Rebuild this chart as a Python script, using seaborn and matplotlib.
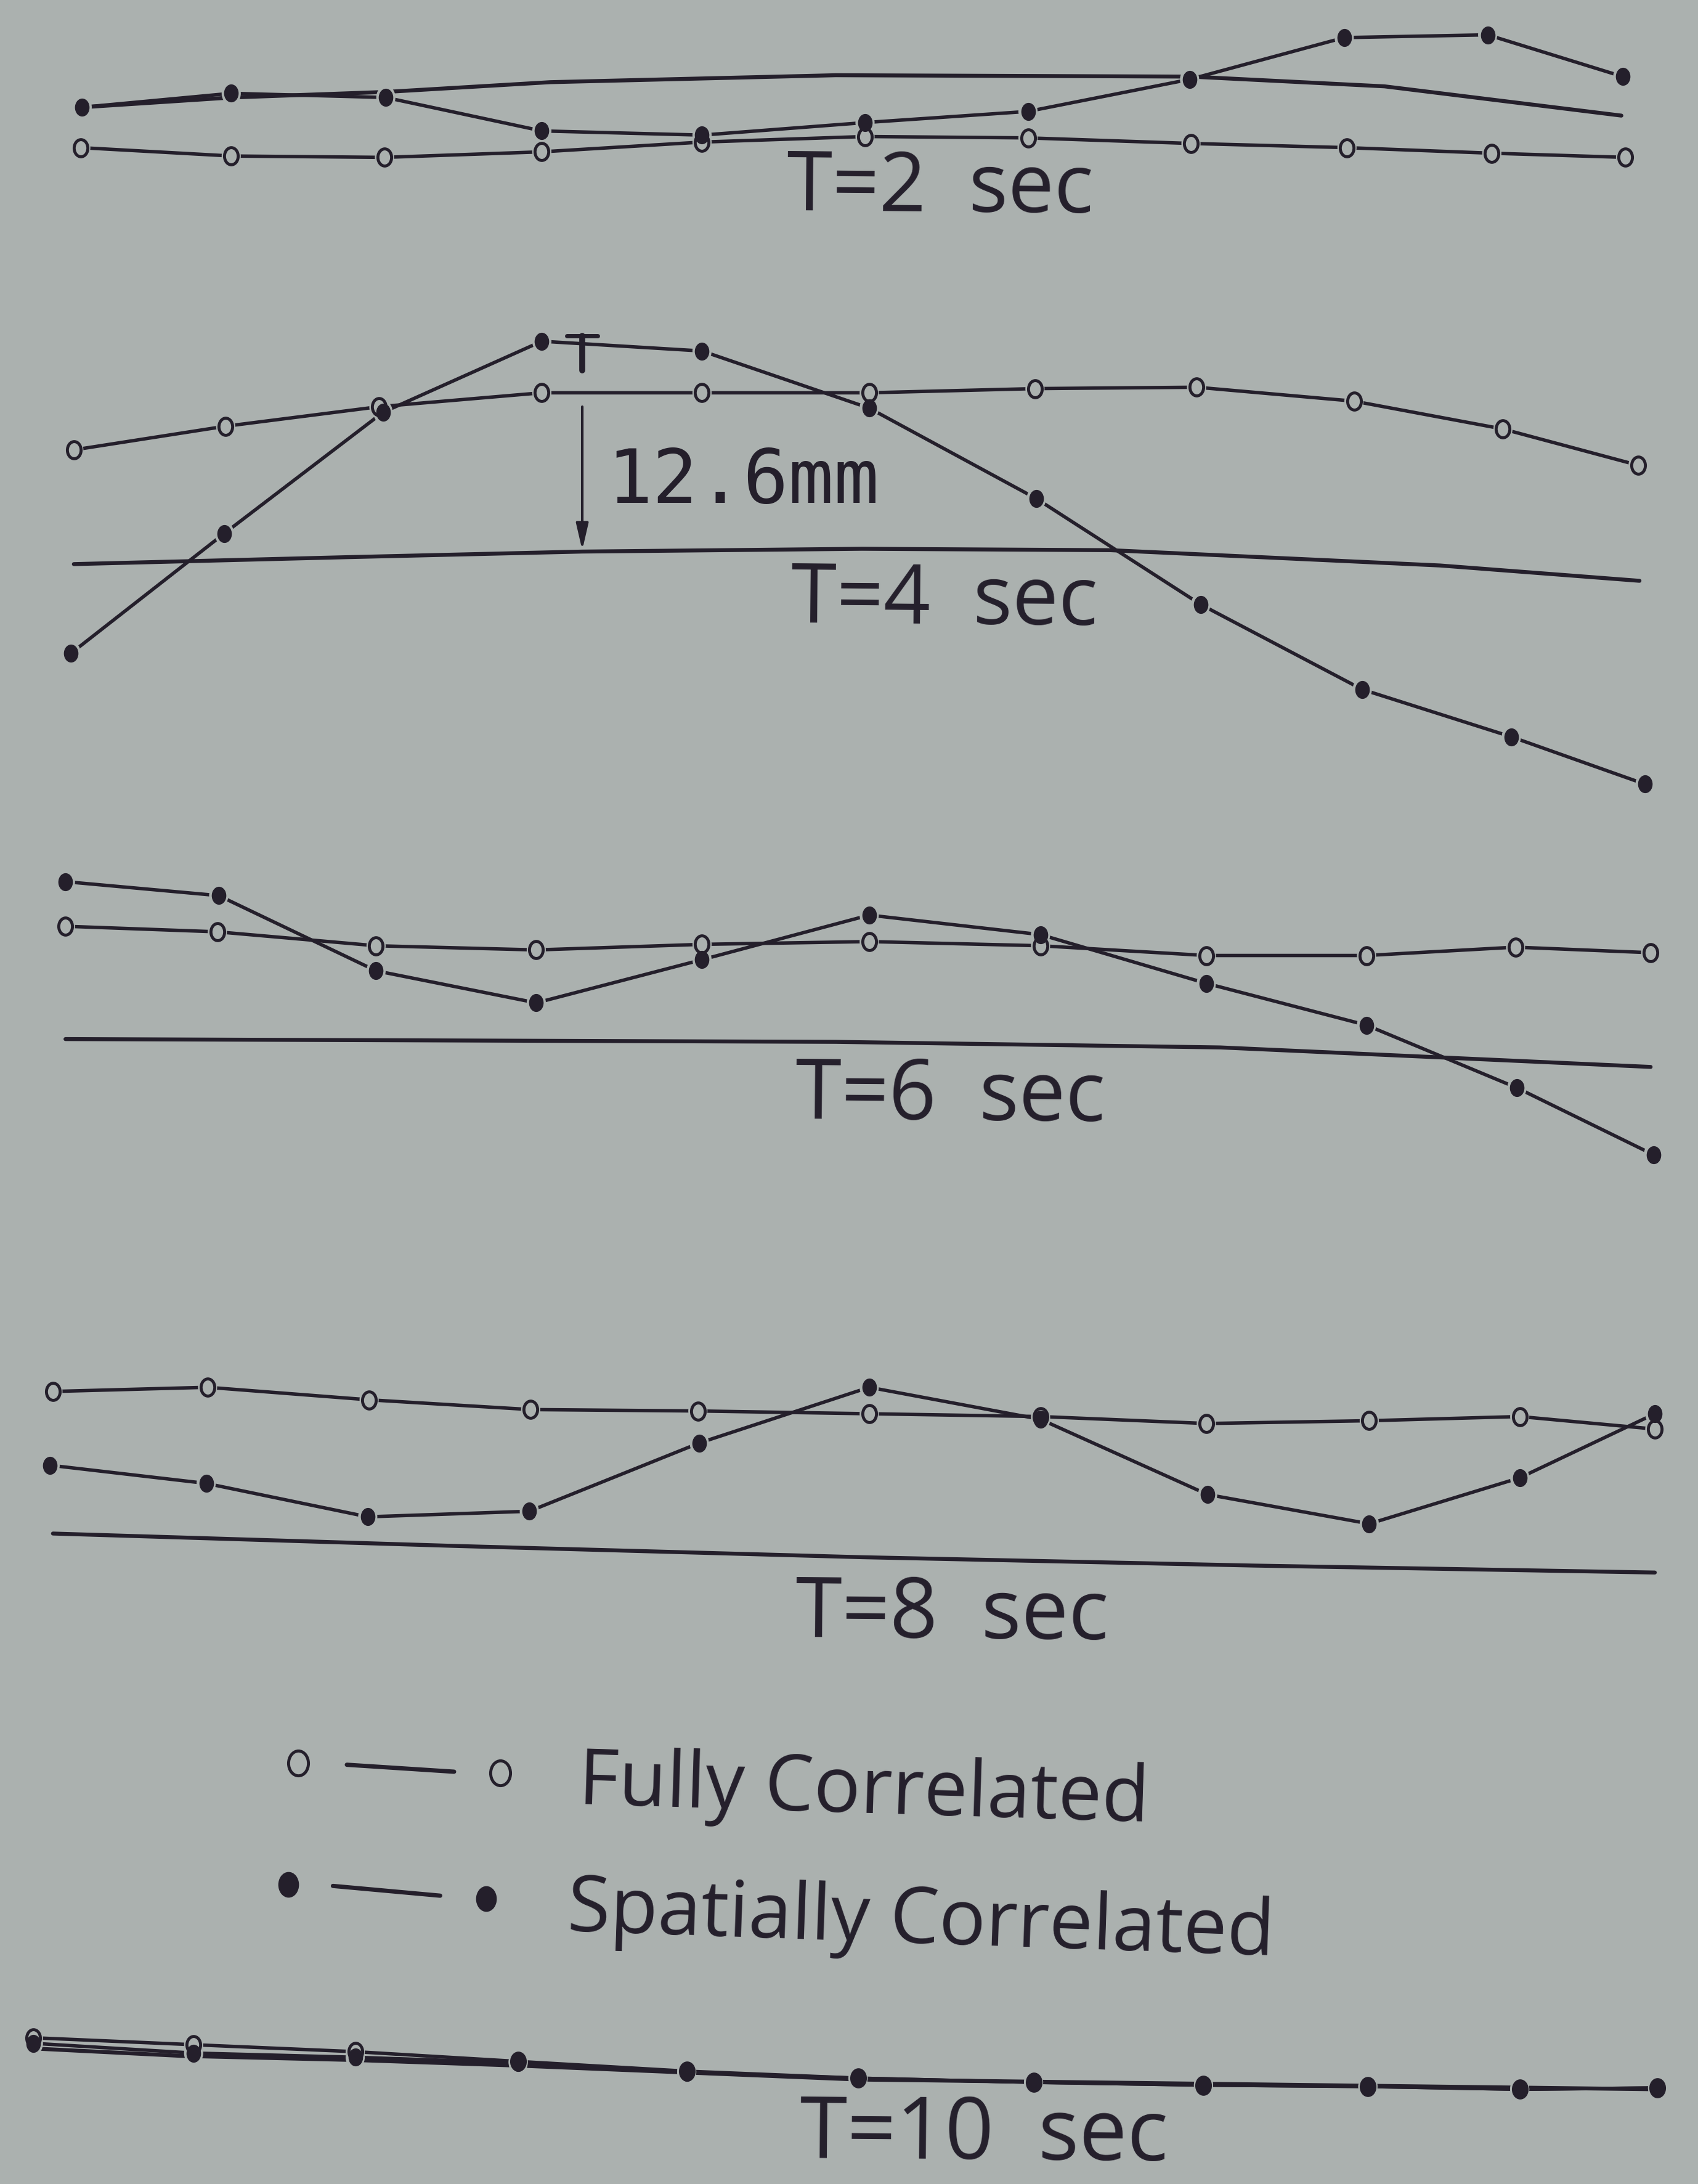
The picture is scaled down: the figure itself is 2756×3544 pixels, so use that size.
import matplotlib
matplotlib.use('Agg')
import matplotlib.pyplot as plt
import numpy as np
import seaborn as sns
from matplotlib.path import Path
from matplotlib.transforms import Affine2D

sns.set_style('white')
plt.rcParams['font.family'] = ['Open Sans', 'DejaVu Sans']

# deck shapes, in units of the 1219 x 1568 reference view
# T = 2 sec
t2_base_x = [59, 166, 277, 395, 600, 855, 994, 1164]
t2_base_y = [77, 70, 66, 59, 54, 55, 62, 83]
t2_full_x = [58, 166, 276, 389, 504, 621, 738, 855, 967, 1071, 1167]
t2_full_y = [106, 112, 113, 109, 102, 98, 99, 103, 106, 110, 113]
t2_spat_x = [59, 166, 277, 389, 504, 621, 738, 854, 965, 1068, 1165]
t2_spat_y = [77, 67, 70, 94, 97, 88, 80, 57, 27, 25, 55]

# T = 4 sec
t4_base_x = [53, 250, 418, 619, 797, 1034, 1177]
t4_base_y = [405, 400, 396, 394, 395, 406, 417]
t4_full_x = [53, 162, 272, 389, 504, 624, 743, 859, 972, 1079, 1176]
t4_full_y = [323, 306, 292, 282, 282, 282, 279, 278, 288, 308, 334]
t4_spat_x = [51, 161, 275, 389, 504, 624, 744, 862, 978, 1085, 1181]
t4_spat_y = [469, 383, 296, 245, 252, 293, 358, 434, 495, 529, 563]

# T = 6 sec
t6_base_x = [47, 600, 876, 1185]
t6_base_y = [746, 748, 752, 766]
t6_full_x = [47, 156, 270, 385, 504, 624, 747, 866, 981, 1088, 1185]
t6_full_y = [665, 669, 679, 682, 678, 676, 679, 686, 686, 680, 684]
t6_spat_x = [47, 157, 270, 385, 504, 624, 747, 866, 981, 1089, 1187]
t6_spat_y = [633, 643, 697, 720, 689, 657, 671, 706, 736, 781, 829]

# T = 8 sec
t8_base_x = [38, 330, 619, 900, 1188]
t8_base_y = [1101, 1110, 1118, 1124, 1129]
t8_full_x = [38, 149, 265, 381, 501, 624, 747, 866, 983, 1091, 1188]
t8_full_y = [999, 996, 1005, 1012, 1013, 1015, 1017, 1022, 1020, 1017, 1026]
t8_spat_x = [36, 148, 264, 380, 502, 624, 747, 867, 983, 1091, 1188]
t8_spat_y = [1052, 1065, 1089, 1085, 1036, 996, 1019, 1073, 1094, 1061, 1015]

# T = 10 sec
t10_base_x = [30, 130, 255, 372, 616, 1190]
t10_base_y = [1471, 1476, 1479, 1483, 1493, 1500]
t10_full_x = [24, 139, 255, 372, 493, 616, 742, 864, 982, 1091, 1190]
t10_full_y = [1463, 1468, 1473, 1480, 1487, 1492, 1495, 1497, 1498, 1500, 1499]
t10_spat_x = [24, 139, 255, 372, 493, 616, 742, 864, 982, 1091, 1190]
t10_spat_y = [1467, 1474, 1477, 1481, 1488, 1492, 1495, 1497, 1498, 1500, 1499]

titles = ['T=2  sec', 'T=4  sec', 'T=6  sec', 'T=8  sec', 'T=10  sec']
title_x = [565, 568, 571, 571, 574]
title_y = [151, 447, 803, 1175, 1549]
title_size = [96, 96, 97, 98, 100]

# legend sample (open / filled)
leg_full_x = [214, 359]
leg_full_y = [1266, 1273]
leg_full_line_x = [249, 326]
leg_full_line_y = [1267, 1272]
leg_spat_x = [207, 349]
leg_spat_y = [1353, 1363]
leg_spat_line_x = [239, 316]
leg_spat_line_y = [1354, 1361]
leg_labels = ['Fully Correlated', 'Spatially Correlated']

BG = '#abb1af'
INK = '#241f2b'
LW = 4.0
OVAL = Path.unit_circle().transformed(Affine2D().scale(0.8, 1.0))

fig = plt.figure(figsize=(27.56, 35.44), dpi=100)
fig.patch.set_facecolor(BG)
ax = fig.add_axes([0, 0, 1, 1])
ax.set_facecolor(BG)
ax.set_xlim(0, 1219)
ax.set_ylim(1568, 0)
ax.axis('off')

panels = [
    (t2_base_x, t2_base_y, t2_full_x, t2_full_y, t2_spat_x, t2_spat_y),
    (t4_base_x, t4_base_y, t4_full_x, t4_full_y, t4_spat_x, t4_spat_y),
    (t6_base_x, t6_base_y, t6_full_x, t6_full_y, t6_spat_x, t6_spat_y),
    (t8_base_x, t8_base_y, t8_full_x, t8_full_y, t8_spat_x, t8_spat_y),
    (t10_base_x, t10_base_y, t10_full_x, t10_full_y, t10_spat_x, t10_spat_y),
]


def line(x, y, lw=LW):
    sns.lineplot(x=x, y=y, ax=ax, sort=False, estimator=None, color=INK, lw=lw, zorder=2)


def dots(x, y, filled, ms=20):
    # background halo gives the little gaps where the lines meet the markers
    sns.scatterplot(x=x, y=y, ax=ax, s=(ms + 8) ** 2, marker=OVAL, color=BG,
                    edgecolor='none', linewidth=0, zorder=4)
    if filled:
        sns.scatterplot(x=x, y=y, ax=ax, s=ms ** 2, marker=OVAL, color=INK,
                        edgecolor=INK, linewidth=1, zorder=5)
    else:
        sns.scatterplot(x=x, y=y, ax=ax, s=ms ** 2, marker=OVAL, color=BG,
                        edgecolor=INK, linewidth=3.5, zorder=5)


for bx, by, fx, fy, sx, sy in panels:
    line(bx, by, lw=4.6)
    line(fx, fy)
    line(sx, sy)
    dots(fx, fy, False)
    dots(sx, sy, True)

for t, x, y, fs in zip(titles, title_x, title_y, title_size):
    ax.text(x, y, t, fontsize=fs, ha='left', va='baseline', color=INK,
            rotation=-0.5, rotation_mode='anchor')

# 12.6 mm dimension on the T = 4 sec panel
ax.plot([407, 429], [241, 241], color=INK, lw=5, zorder=3)
ax.plot([418, 418], [241, 266], color=INK, lw=7, zorder=3)
ax.annotate('', xy=(418, 395), xytext=(418, 292),
            arrowprops=dict(arrowstyle='-|>,head_length=0.65,head_width=0.15',
                            color=INK, lw=3, mutation_scale=40,
                            shrinkA=0, shrinkB=0))
ax.text(436, 361, '12.6mm', fontsize=88, family='DejaVu Sans Mono',
        ha='left', va='baseline', color=INK)

# legend
line(leg_full_line_x, leg_full_line_y, lw=5)
line(leg_spat_line_x, leg_spat_line_y, lw=5)
dots(leg_full_x, leg_full_y, False, ms=29)
dots(leg_spat_x, leg_spat_y, True, ms=29)
ax.text(415, 1295, leg_labels[0], fontsize=91, ha='left', va='baseline',
        color=INK, rotation=-1.8, rotation_mode='anchor')
ax.text(407, 1386, leg_labels[1], fontsize=91, ha='left', va='baseline',
        color=INK, rotation=-2.0, rotation_mode='anchor')

fig.savefig('out.png', dpi=100, facecolor=BG)
